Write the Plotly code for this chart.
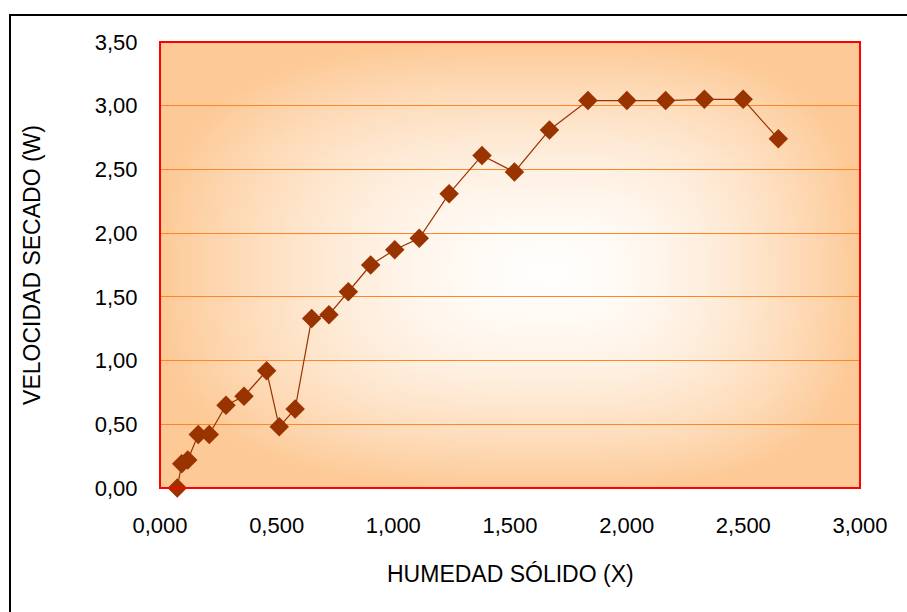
import base64
import struct
import zlib
import plotly.graph_objects as go

# Data
humedad_x = [0.074, 0.093, 0.119, 0.164, 0.211, 0.283, 0.360, 0.457, 0.511, 0.579,
             0.650, 0.724, 0.807, 0.903, 1.006, 1.111, 1.239, 1.380, 1.519, 1.669,
             1.834, 2.001, 2.167, 2.333, 2.499, 2.650]
velocidad_w = [0.00, 0.19, 0.22, 0.42, 0.42, 0.65, 0.72, 0.92, 0.48, 0.62,
               1.33, 1.36, 1.54, 1.75, 1.87, 1.96, 2.31, 2.61, 2.48, 2.81,
               3.04, 3.04, 3.04, 3.05, 3.05, 2.74]
y_ticks = [0, 0.5, 1.0, 1.5, 2.0, 2.5, 3.0, 3.5]
x_ticks = [0, 0.5, 1.0, 1.5, 2.0, 2.5, 3.0]

FONT = "Liberation Sans, Arial, sans-serif"


def gradient_png(w, h):
    edge = (253, 202, 151)
    centre = (255, 254, 252)
    cx, cy = 0.56, 0.52
    rows = []
    for j in range(h):
        v = (j + 0.5) / h
        row = bytearray([0])
        for i in range(w):
            u = (i + 0.5) / w
            dx = abs(u - cx) / (cx if u < cx else 1 - cx)
            dy = abs(v - cy) / (cy if v < cy else 1 - cy)
            d = (dx ** 3 + dy ** 3) ** (1 / 3)
            d = min(d, 1.0)
            s = d ** 1.7
            for k in range(3):
                row.append(int(round(centre[k] * (1 - s) + edge[k] * s)))
        rows.append(bytes(row))
    raw = b"".join(rows)

    def chunk(t, data):
        c = struct.pack(">I", len(data)) + t + data
        return c + struct.pack(">I", zlib.crc32(t + data) & 0xFFFFFFFF)

    png = b"\x89PNG\r\n\x1a\n"
    png += chunk(b"IHDR", struct.pack(">IIBBBBB", w, h, 8, 2, 0, 0, 0))
    png += chunk(b"IDAT", zlib.compress(raw, 9))
    png += chunk(b"IEND", b"")
    return "data:image/png;base64," + base64.b64encode(png).decode()


fig = go.Figure()
fig.add_trace(go.Scatter(
    x=humedad_x, y=velocidad_w, mode="lines+markers",
    line=dict(color="#993300", width=1.2),
    marker=dict(symbol="diamond", size=15, color="#993300",
                line=dict(width=0)),
    showlegend=False, cliponaxis=False,
))

fig.add_layout_image(dict(
    source=gradient_png(140, 90), xref="paper", yref="paper",
    x=0, y=1, sizex=1, sizey=1, xanchor="left", yanchor="top",
    sizing="stretch", layer="below",
))

# plot-area outline and outer chart border
fig.add_shape(type="rect", xref="paper", yref="paper", x0=0, y0=0, x1=1, y1=1,
              line=dict(color="#FF0000", width=2), layer="above")
fig.add_shape(type="rect", xref="paper", yref="paper",
              x0=-0.2143, y0=-0.30, x1=1.08, y1=1.0605,
              line=dict(color="#000000", width=2), layer="above")

fig.add_annotation(text="HUMEDAD SÓLIDO (X)", xref="paper", yref="paper",
                   x=0.5, y=-0.193, xanchor="center", yanchor="middle",
                   showarrow=False,
                   font=dict(family=FONT, size=23, color="#000000"))
fig.add_annotation(text="VELOCIDAD SECADO (W)", xref="paper", yref="paper",
                   x=-0.183, y=0.5, xanchor="center", yanchor="middle",
                   showarrow=False, textangle=-90,
                   font=dict(family=FONT, size=23, color="#000000"))

fig.update_layout(
    width=907, height=612,
    margin=dict(l=160, r=47, t=42, b=124, pad=0),
    paper_bgcolor="#FFFFFF", plot_bgcolor="rgba(0,0,0,0)",
    separators=",.",
    font=dict(family=FONT, size=22, color="#000000"),
    xaxis=dict(range=[0, 3], tickvals=x_ticks, tickformat=".3f",
               showgrid=False, zeroline=False, showline=True,
               linecolor="#200000", linewidth=1, ticks="",
               ticklabelstandoff=18, fixedrange=True),
    yaxis=dict(range=[0, 3.5], tickvals=y_ticks, tickformat=".2f",
               showgrid=True, gridcolor="#FF8526", gridwidth=1.4,
               zeroline=False, showline=True, linecolor="#200000",
               linewidth=1, ticks="", ticklabelstandoff=17, fixedrange=True),
)

fig.write_html("out.html")
